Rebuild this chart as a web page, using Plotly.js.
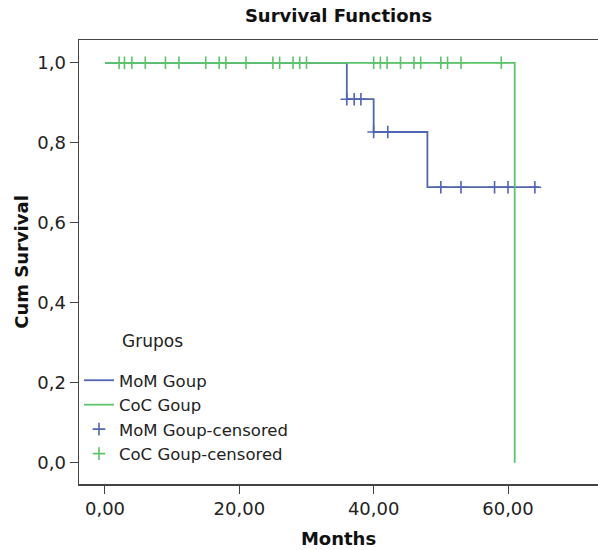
<!DOCTYPE html>
<html><head><meta charset="utf-8">
<script src="https://cdn.plot.ly/plotly-3.0.1.min.js"></script>
<style>body{margin:0;background:#fff}#c{width:598px;height:550px}</style>
</head><body><div id="c"></div>
<script>
// MoM group step function
const momTime = [0, 36, 40, 48, 64.6];
const momSurv = [1.0, 0.909, 0.827, 0.689, 0.689];
// CoC group step function
const cocTime = [0, 61, 61];
const cocSurv = [1.0, 1.0, 0.0];
// censored observations
const momCensT = [36, 37.1, 38.1, 40, 42.1, 50, 53, 58, 60, 64];
const momCensS = [0.909, 0.909, 0.909, 0.827, 0.827, 0.689, 0.689, 0.689, 0.689, 0.689];
const cocCensT = [2.1, 2.9, 4, 6, 9, 11, 15, 17, 18, 21, 25, 26, 28, 29, 30, 40, 41, 42, 44, 46, 47, 50, 51, 53, 59];
const cocCensS = cocCensT.map(() => 1.0);
const blue = '#5065b4', green = '#5cc46a';
const font = 'DejaVu Sans, Arial, sans-serif';
const traces = [
  {x: momTime, y: momSurv, mode: 'lines', line: {shape: 'hv', color: blue, width: 1.8}, name: 'MoM Goup'},
  {x: cocTime, y: cocSurv, mode: 'lines', line: {shape: 'hv', color: green, width: 1.8}, name: 'CoC Goup'},
  {x: momCensT, y: momCensS, mode: 'markers', marker: {symbol: 'cross-thin', size: 9, line: {color: blue, width: 1.6}}, name: 'MoM Goup-censored'},
  {x: cocCensT, y: cocCensS, mode: 'markers', marker: {symbol: 'cross-thin', size: 9, line: {color: green, width: 1.6}}, name: 'CoC Goup-censored'}
];
const layout = {
  width: 598, height: 550,
  margin: {l: 79, r: 0, t: 40, b: 66},
  separators: ',.',
  paper_bgcolor: '#fff', plot_bgcolor: '#fff',
  font: {family: font, size: 18, color: '#222'},
  title: {text: '<b>Survival Functions</b>', x: 0.5, xref: 'paper', y: 0.971, yref: 'container', yanchor: 'middle', font: {size: 18, color: '#111'}},
  xaxis: {range: [-3.87, 73.4], tickvals: [0, 20, 40, 60], tickformat: '.2f', showgrid: false, zeroline: false,
    showline: true, mirror: true, linecolor: '#444', linewidth: 1.5, ticks: 'outside', ticklen: 8, tickcolor: '#444',
    title: {text: '<b>Months</b>', font: {size: 18, color: '#111'}, standoff: 14}},
  yaxis: {range: [-0.053, 1.057], tickvals: [0, 0.2, 0.4, 0.6, 0.8, 1.0], tickformat: '.1f', showgrid: false, zeroline: false,
    showline: true, linecolor: '#444', linewidth: 1.5, ticks: 'outside', ticklen: 8, tickcolor: '#444',
    title: {text: '<b>Cum Survival</b>', font: {size: 18, color: '#111'}, standoff: 4}},
  showlegend: true,
  legend: {x: 0.0, y: 0.2725, xanchor: 'left', yanchor: 'top', bgcolor: 'rgba(0,0,0,0)', font: {size: 16.5, color: '#222'}, tracegroupgap: 0, itemwidth: 30},
  annotations: [{text: 'Grupos', xref: 'paper', yref: 'paper', x: 0.079, y: 0.322, xanchor: 'left', yanchor: 'middle', showarrow: false, font: {size: 17, color: '#222'}}]
};
Plotly.newPlot('c', traces, layout, {displayModeBar: false, staticPlot: true});
</script></body></html>
